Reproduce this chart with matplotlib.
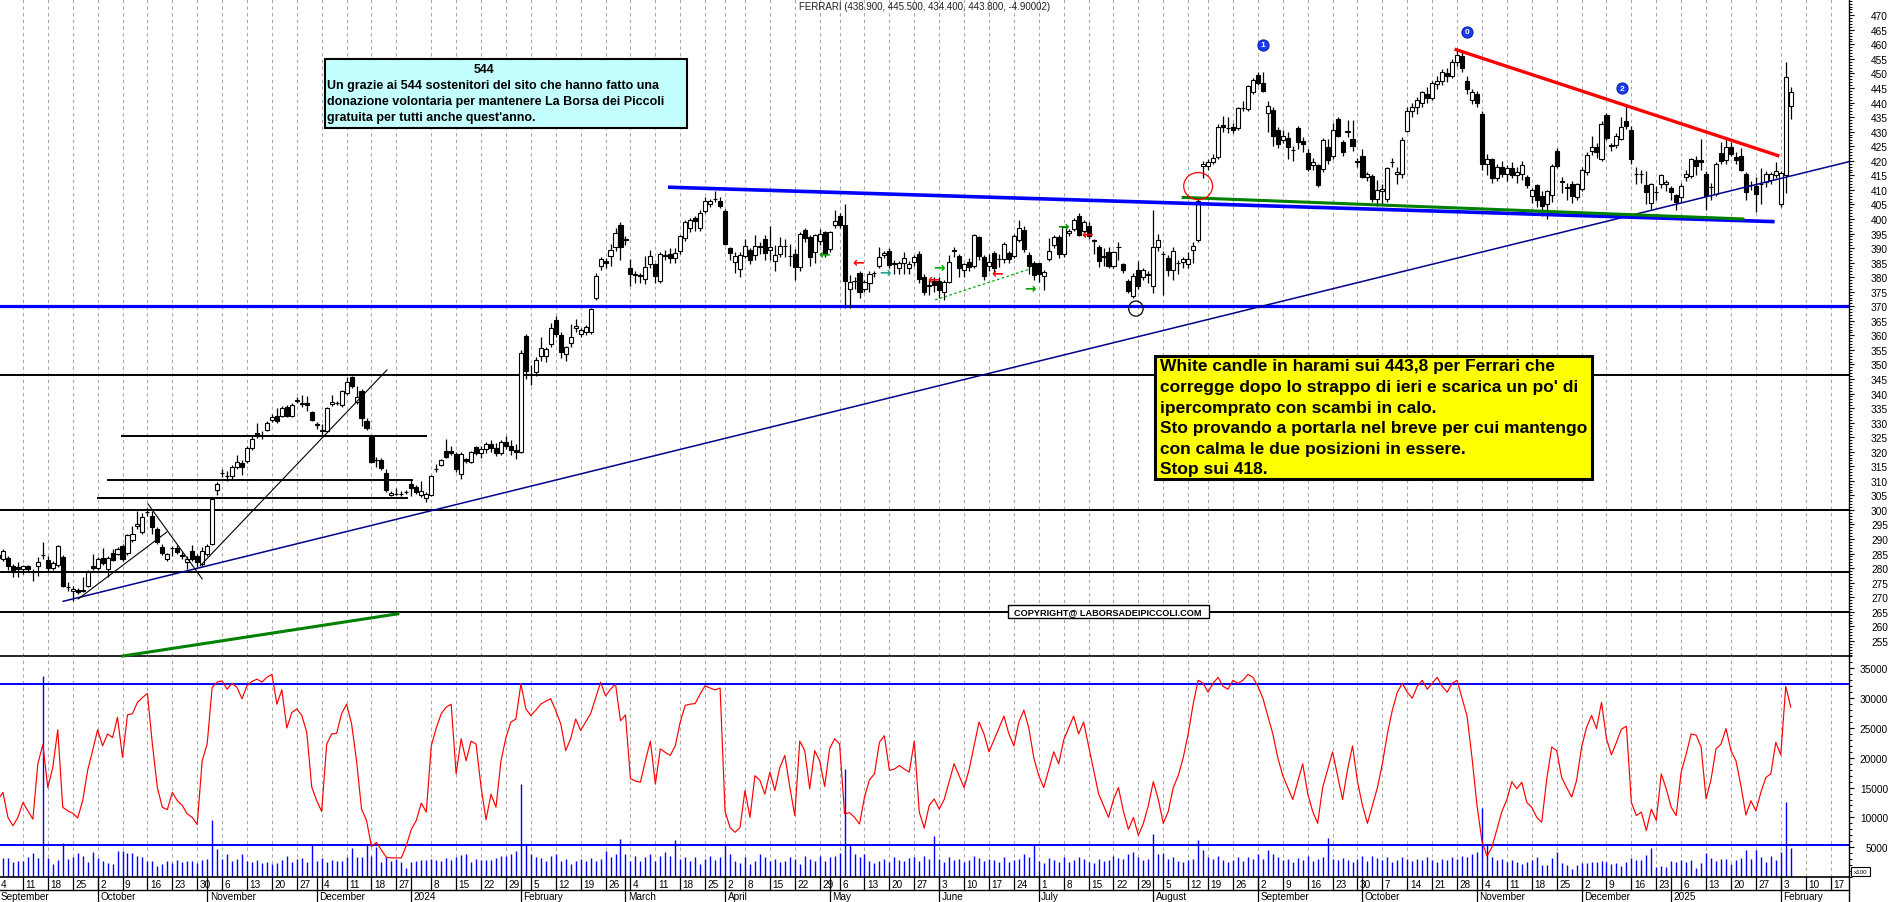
import matplotlib
matplotlib.use("Agg")
import matplotlib.pyplot as plt
import numpy as np
import pandas as pd
from matplotlib.patches import Rectangle, Ellipse
from matplotlib.ticker import MultipleLocator, FixedLocator

plt.rcParams['font.family'] = ['Liberation Sans', 'DejaVu Sans']

# ---------------- data ----------------
holidays = ['2023-12-25', '2023-12-26', '2024-01-01', '2024-03-29', '2024-04-01',
            '2024-05-01', '2024-08-15', '2024-12-24', '2024-12-25', '2024-12-26',
            '2024-12-31', '2025-01-01']
start_date = '2023-09-04'
end_date = '2025-02-05'
axis_end_date = '2025-02-28'

opens = [
    284.5, 283.2, 283.4, 280.9, 280.5, 279.7, 280.6, 278.8, 280.6, 284.5,
    282.8, 280.0, 281.1, 283.8, 273.6, 272.3, 272.5, 272.1, 274.0, 280.9,
    280.0, 283.4, 279.7, 285.1, 284.9, 287.7, 285.2, 289.8, 294.4, 292.3,
    299.2, 298.0, 293.5, 287.2, 283.2, 287.0, 287.0, 284.4, 282.2, 286.0,
    284.0, 281.4, 284.9, 288.3, 306.9, 312.7, 311.6, 311.5, 314.7, 316.0,
    316.7, 321.2, 326.5, 325.6, 327.5, 330.9, 332.2, 332.2, 335.4, 332.2,
    337.6, 336.5, 336.8, 333.6, 329.3, 327.3, 327.3, 336.4, 336.8, 336.1,
    340.1, 345.6, 337.0, 340.8, 330.7, 325.2, 317.2, 317.3, 312.7, 305.3,
    305.5, 305.5, 306.0, 308.8, 307.8, 305.2, 304.0, 305.3, 314.1, 315.5,
    320.4, 320.4, 319.2, 312.4, 317.5, 316.4, 321.5, 319.6, 321.0, 322.8,
    321.2, 319.5, 323.5, 322.0, 320.5, 320.0, 359.7, 346.8, 347.3, 352.8,
    353.0, 357.1, 365.4, 360.1, 353.6, 357.4, 362.6, 360.3, 361.1, 361.1,
    372.7, 384.0, 385.5, 387.2, 390.3, 397.9, 392.9, 383.2, 381.1, 380.7,
    379.4, 384.5, 384.5, 378.8, 387.6, 388.0, 386.5, 389.1, 393.3, 396.8,
    400.2, 396.8, 402.9, 405.1, 406.9, 406.1, 402.9, 389.9, 385.3, 382.8,
    387.2, 389.3, 387.6, 390.5, 393.1, 389.5, 385.7, 388.0, 390.6, 387.2,
    387.8, 383.4, 396.2, 393.7, 388.5, 392.6, 395.4, 389.7, 398.0, 401.1,
    398.0, 375.9, 378.7, 381.3, 375.9, 378.0, 381.4, 384.0, 387.6, 388.9,
    384.6, 383.0, 384.9, 383.0, 385.1, 388.0, 380.0, 377.1, 378.8, 378.8,
    374.8, 378.2, 389.1, 387.2, 382.3, 385.1, 383.7, 393.7, 386.8, 383.7,
    388.3, 386.2, 386.3, 388.2, 387.4, 392.9, 396.2, 387.6, 384.9, 384.9,
    380.3, 386.3, 391.1, 393.7, 388.0, 395.2, 396.6, 400.9, 396.0, 397.7,
    392.5, 390.3, 387.1, 388.6, 384.0, 390.3, 384.5, 378.8, 373.4, 382.6,
    380.0, 380.9, 377.1, 390.3, 388.0, 386.5, 382.3, 384.8, 385.1, 384.6,
    389.5, 392.8, 418.1, 418.1, 419.5, 421.2, 432.3, 431.3, 431.7, 431.2,
    438.0, 437.8, 443.8, 449.5, 446.7, 436.4, 437.5, 430.7, 427.3, 427.8,
    423.7, 431.3, 426.9, 422.7, 418.6, 418.6, 417.2, 424.6, 421.5, 434.4,
    426.4, 430.0, 427.5, 419.7, 421.8, 414.3, 414.9, 406.9, 409.5, 406.7,
    419.5, 415.3, 415.3, 430.4, 437.0, 438.5, 440.0, 443.0, 441.5, 446.5,
    447.5, 450.0, 449.0, 454.0, 456.0, 447.5, 441.0, 443.0, 436.0, 419.0,
    420.5, 414.0, 418.0, 415.5, 417.5, 415.0, 415.5, 414.3, 408.0, 411.7,
    407.8, 405.2, 408.2, 423.3, 412.8, 410.8, 412.0, 407.4, 410.3, 416.3,
    423.5, 424.6, 420.6, 435.9, 425.2, 425.4, 427.5, 433.5, 430.6, 415.5,
    415.5, 411.7, 405.5, 409.2, 412.0, 412.0, 410.6, 408.2, 407.4, 414.3,
    414.6, 420.3, 420.3, 415.5, 410.9, 408.6, 422.7, 420.4, 424.6, 421.2,
    421.5, 415.5, 411.7, 411.2, 412.0, 412.6, 413.5, 415.1, 405.2, 415.1, 438.9]
highs = [
    285.5, 286.5, 284.0, 281.5, 282.0, 281.0, 281.2, 279.7, 283.7, 288.9,
    284.3, 282.5, 288.0, 284.5, 275.1, 274.0, 273.0, 276.9, 279.2, 284.9,
    283.8, 286.9, 284.0, 286.6, 287.2, 288.3, 291.8, 294.5, 299.8, 299.0,
    300.6, 299.8, 294.0, 288.3, 285.2, 287.7, 288.0, 285.5, 284.0, 288.0,
    285.0, 287.2, 288.3, 304.3, 309.7, 314.1, 313.5, 315.5, 318.9, 317.0,
    322.0, 325.5, 329.8, 327.0, 330.5, 332.8, 335.0, 335.8, 336.0, 336.8,
    338.8, 339.5, 339.3, 334.0, 330.1, 329.6, 335.5, 339.5, 337.5, 341.3,
    345.8, 346.0, 342.7, 341.5, 331.5, 325.8, 318.1, 318.0, 314.0, 306.5,
    307.5, 306.5, 307.0, 310.6, 308.5, 310.0, 306.0, 312.0, 315.8, 317.5,
    324.4, 321.9, 320.0, 320.0, 318.0, 320.4, 322.0, 322.0, 323.5, 324.0,
    323.0, 324.0, 325.5, 324.0, 322.5, 354.8, 360.5, 349.8, 352.5, 359.3,
    356.0, 364.3, 366.5, 361.0, 356.5, 364.0, 365.5, 362.5, 363.5, 369.5,
    381.5, 387.0, 386.5, 391.5, 397.0, 399.0, 394.0, 386.3, 382.0, 381.5,
    387.4, 389.2, 385.0, 388.5, 389.5, 390.0, 390.0, 394.5, 399.5, 400.5,
    401.0, 403.0, 407.5, 407.0, 409.5, 407.5, 403.5, 390.5, 388.5, 388.5,
    393.0, 390.0, 394.5, 392.0, 394.5, 397.5, 391.0, 393.7, 393.0, 391.5,
    389.8, 395.5, 397.0, 394.5, 395.0, 396.5, 396.0, 396.0, 403.0, 402.0,
    405.0, 380.6, 380.0, 382.0, 379.0, 382.0, 382.0, 390.5, 389.0, 390.0,
    386.0, 385.5, 388.5, 385.5, 387.5, 389.0, 381.0, 379.0, 380.0, 380.0,
    379.0, 387.5, 390.5, 388.0, 385.0, 386.5, 395.0, 394.0, 387.5, 388.0,
    389.0, 388.0, 392.0, 389.0, 394.8, 399.5, 397.5, 388.5, 385.5, 385.0,
    382.5, 393.5, 394.5, 394.5, 397.5, 396.5, 400.5, 402.0, 399.5, 399.0,
    393.0, 391.0, 390.0, 390.5, 389.0, 392.0, 385.0, 379.5, 381.5, 385.5,
    383.0, 382.0, 403.0, 395.0, 389.0, 387.5, 390.5, 386.0, 387.0, 388.5,
    392.0, 407.0, 420.0, 420.5, 422.5, 432.5, 435.5, 435.0, 433.0, 438.5,
    440.5, 446.0, 448.5, 450.5, 450.5, 440.5, 438.5, 431.5, 430.5, 430.0,
    425.0, 432.0, 428.0, 424.0, 421.0, 419.0, 427.8, 427.5, 433.0, 435.0,
    427.0, 434.0, 434.0, 421.0, 424.0, 416.0, 415.5, 413.5, 412.0, 418.0,
    421.0, 418.0, 428.0, 438.5, 440.0, 442.0, 444.0, 445.5, 447.5, 449.0,
    451.5, 452.0, 455.0, 458.5, 457.5, 449.0, 444.5, 444.0, 437.0, 422.5,
    421.0, 419.0, 420.0, 418.5, 419.5, 418.0, 420.0, 415.0, 410.5, 412.0,
    409.5, 410.0, 419.0, 424.5, 414.5, 412.5, 413.0, 412.5, 418.0, 423.0,
    428.5, 426.0, 433.5, 436.5, 426.0, 429.5, 435.0, 439.0, 432.0, 418.0,
    417.0, 416.5, 412.5, 411.5, 415.5, 413.5, 411.5, 408.5, 412.5, 417.0,
    421.0, 421.5, 427.5, 416.5, 412.5, 419.5, 426.5, 428.0, 426.5, 423.0,
    424.5, 416.0, 413.0, 414.5, 417.5, 416.5, 416.0, 419.5, 416.5, 454.0, 445.5]
lows = [
    282.5, 282.5, 279.2, 276.9, 276.9, 278.0, 279.0, 275.5, 277.4, 283.2,
    278.8, 279.5, 280.5, 273.5, 272.3, 268.8, 271.0, 271.7, 273.5, 279.2,
    279.5, 281.2, 276.9, 282.6, 284.5, 282.5, 284.6, 289.0, 293.5, 291.7,
    298.0, 291.8, 288.3, 284.5, 282.5, 284.3, 285.0, 283.0, 279.7, 282.5,
    280.5, 280.9, 284.3, 288.0, 305.3, 311.2, 310.0, 310.5, 314.0, 312.1,
    316.0, 320.5, 324.7, 324.5, 327.0, 330.3, 330.0, 331.8, 332.0, 331.8,
    336.8, 335.5, 334.1, 330.5, 327.8, 325.0, 326.8, 335.8, 336.0, 335.5,
    339.5, 342.0, 336.5, 329.0, 327.5, 316.0, 314.7, 313.8, 306.0, 304.8,
    305.0, 304.8, 305.5, 304.9, 305.5, 304.5, 302.6, 304.8, 313.0, 315.0,
    318.0, 319.0, 313.0, 310.7, 316.0, 316.0, 319.0, 318.0, 319.5, 320.0,
    318.5, 319.0, 321.0, 319.0, 317.5, 319.5, 345.0, 343.0, 346.0, 351.3,
    351.0, 356.0, 359.5, 352.3, 351.3, 356.0, 361.0, 359.5, 360.0, 360.5,
    372.0, 382.5, 383.0, 384.0, 389.0, 386.0, 391.0, 377.0, 378.0, 378.0,
    377.5, 383.0, 378.0, 378.0, 386.0, 385.0, 385.0, 388.0, 392.5, 395.5,
    395.7, 396.0, 402.0, 404.0, 406.0, 403.8, 391.0, 386.0, 381.5, 380.0,
    386.5, 384.5, 386.0, 388.0, 386.0, 386.0, 382.0, 387.0, 387.0, 384.0,
    379.0, 382.0, 392.0, 384.0, 385.0, 391.0, 387.0, 388.5, 397.0, 397.0,
    369.5, 369.5, 376.0, 373.0, 375.0, 375.0, 380.0, 383.0, 386.5, 383.0,
    381.0, 381.0, 381.0, 381.0, 384.0, 378.0, 374.0, 374.0, 375.0, 373.0,
    372.0, 378.0, 387.0, 380.0, 380.0, 382.0, 383.0, 386.0, 379.0, 382.0,
    381.5, 383.5, 385.0, 385.0, 386.5, 392.0, 388.5, 381.0, 379.0, 378.5,
    375.5, 385.5, 390.0, 386.5, 387.0, 394.0, 396.0, 394.0, 394.0, 393.0,
    388.0, 383.5, 384.0, 383.0, 383.0, 386.0, 381.5, 374.5, 373.0, 376.0,
    379.0, 378.0, 374.5, 389.0, 374.0, 380.5, 379.0, 381.0, 383.0, 383.0,
    385.0, 392.0, 414.0, 417.0, 419.0, 420.5, 430.0, 429.5, 429.5, 430.5,
    437.0, 437.0, 443.0, 446.0, 443.5, 430.0, 425.0, 424.5, 426.0, 420.5,
    420.0, 424.0, 423.0, 416.5, 417.0, 411.0, 416.0, 419.0, 420.5, 428.0,
    421.5, 428.0, 423.5, 418.0, 414.0, 413.0, 406.0, 404.5, 405.0, 406.0,
    418.0, 412.0, 414.0, 430.0, 435.0, 436.0, 438.5, 440.0, 441.0, 444.5,
    446.0, 447.0, 448.5, 452.5, 450.5, 443.0, 439.5, 438.5, 417.0, 415.0,
    412.5, 413.0, 414.5, 413.0, 414.0, 412.5, 413.5, 410.5, 405.5, 404.0,
    401.0, 400.0, 406.0, 417.5, 409.0, 406.5, 405.5, 406.5, 409.5, 415.0,
    422.0, 421.0, 420.0, 427.0, 423.5, 424.5, 427.0, 431.0, 419.0, 412.0,
    412.5, 405.0, 403.5, 406.5, 410.5, 409.5, 406.5, 403.0, 406.0, 413.0,
    414.0, 415.0, 417.0, 403.0, 406.5, 408.0, 419.0, 419.0, 421.5, 419.0,
    416.5, 406.5, 410.0, 402.5, 405.0, 411.0, 412.0, 414.0, 404.0, 409.0, 434.4]
closes = [
    283.5, 286.0, 280.9, 278.8, 279.7, 280.6, 279.7, 278.5, 282.0, 284.6,
    280.0, 281.7, 287.5, 274.0, 273.4, 272.9, 271.7, 272.5, 278.6, 280.0,
    283.2, 281.7, 283.4, 282.9, 286.6, 283.2, 291.4, 291.8, 295.2, 297.5,
    299.2, 294.0, 288.9, 285.2, 284.8, 286.9, 285.7, 284.0, 283.2, 283.2,
    282.0, 286.0, 287.5, 303.8, 308.9, 312.7, 311.6, 314.7, 316.4, 314.9,
    321.2, 324.4, 325.3, 325.5, 329.8, 332.1, 330.4, 335.1, 332.4, 336.2,
    337.6, 336.5, 336.1, 331.0, 329.3, 327.3, 335.1, 337.2, 336.9, 340.8,
    343.9, 342.7, 338.9, 331.5, 328.1, 316.6, 317.2, 314.3, 307.0, 305.8,
    305.5, 305.6, 306.1, 307.5, 306.1, 306.6, 305.5, 311.5, 314.2, 317.0,
    318.3, 319.5, 313.9, 319.2, 316.7, 319.8, 319.6, 321.0, 322.8, 321.2,
    319.5, 323.5, 322.0, 320.5, 320.0, 354.0, 347.9, 346.6, 351.6, 355.6,
    355.3, 362.4, 360.5, 354.4, 355.9, 359.6, 363.2, 361.9, 362.8, 369.0,
    380.5, 386.2, 385.0, 389.5, 395.2, 390.3, 392.9, 381.1, 380.9, 380.5,
    383.4, 387.4, 380.5, 387.9, 387.2, 386.5, 388.3, 394.0, 398.8, 399.8,
    399.4, 402.1, 406.3, 406.3, 406.9, 404.3, 391.4, 388.2, 387.4, 387.6,
    390.8, 385.9, 390.8, 390.5, 388.3, 390.3, 387.6, 390.8, 390.6, 387.2,
    383.4, 395.0, 393.3, 386.8, 394.5, 394.8, 388.0, 395.4, 399.2, 398.0,
    378.8, 378.5, 378.7, 374.8, 378.2, 381.1, 381.4, 387.0, 388.3, 384.3,
    384.6, 384.8, 386.6, 384.6, 386.8, 379.4, 375.0, 377.3, 377.3, 375.7,
    378.2, 385.3, 389.1, 383.0, 384.5, 383.4, 394.6, 387.4, 380.5, 385.3,
    383.0, 386.2, 391.4, 386.3, 394.1, 396.9, 389.7, 383.7, 380.8, 381.1,
    381.7, 389.1, 393.7, 388.0, 397.1, 395.8, 399.8, 394.5, 398.9, 394.3,
    392.5, 385.7, 387.1, 384.0, 388.6, 390.3, 382.6, 375.4, 380.5, 377.1,
    382.3, 380.9, 390.3, 392.9, 388.0, 382.3, 389.1, 384.8, 386.2, 386.2,
    390.8, 406.3, 418.9, 419.7, 421.0, 431.7, 431.5, 431.3, 430.7, 438.0,
    438.2, 445.6, 447.8, 446.6, 444.1, 438.7, 428.4, 425.8, 428.4, 424.6,
    423.7, 426.4, 425.8, 417.2, 419.5, 411.7, 427.3, 420.4, 430.7, 428.6,
    423.0, 430.0, 425.0, 419.7, 414.3, 415.5, 406.9, 410.0, 410.2, 417.4,
    419.5, 416.0, 427.2, 437.2, 438.5, 440.8, 443.5, 441.5, 446.8, 447.5,
    450.5, 449.0, 454.0, 456.5, 452.0, 444.5, 443.5, 440.0, 419.0, 420.5,
    414.0, 418.0, 415.5, 417.5, 415.0, 416.0, 418.6, 411.7, 410.1, 406.6,
    404.4, 409.5, 418.3, 418.1, 412.8, 410.8, 407.8, 411.9, 417.0, 422.0,
    424.6, 422.9, 432.6, 427.7, 425.2, 428.6, 431.5, 431.8, 420.6, 415.5,
    415.5, 409.2, 412.0, 409.2, 415.1, 412.8, 409.4, 405.7, 411.4, 415.5,
    420.6, 418.3, 419.5, 408.0, 410.9, 418.9, 420.0, 424.6, 422.3, 420.4,
    417.0, 409.4, 411.7, 408.6, 412.0, 415.5, 415.5, 416.6, 415.8, 448.7, 443.8]

volumes = [
    3000, 3200, 3200, 2500, 2750, 2750, 3400, 4000, 3200, 33800,
    3200, 2200, 2900, 5700, 3000, 3400, 4000, 3600, 2500, 4200,
    3200, 2750, 2300, 2100, 4400, 4400, 4100, 4000, 3600, 3300,
    2650, 2650, 1800, 2200, 2750, 2300, 2900, 2500, 2650, 2650,
    2400, 2800, 3000, 9500, 4700, 3000, 3900, 2750, 3100, 3900,
    2750, 2600, 2900, 2400, 2500, 2200, 2300, 2900, 3600, 2600,
    3000, 3200, 2500, 5300, 2750, 3200, 2500, 2900, 2650, 2750,
    3300, 4900, 3400, 3400, 5300, 3500, 5100, 2500, 3400, 2750,
    3000, 2600, 1500, 2500, 2650, 2800, 2800, 3000, 2800, 2700,
    3200, 2900, 3300, 3700, 3800, 2600, 3000, 2800, 2900, 2800,
    3200, 3500, 3600, 3900, 4400, 15600, 5500, 3900, 3300, 3200,
    2750, 3600, 3900, 2750, 3000, 2200, 2750, 3000, 2750, 3200,
    2750, 3000, 4400, 3300, 3900, 6400, 3900, 2750, 3600, 2650,
    3300, 3900, 2750, 3600, 4200, 3500, 6200, 3000, 3300, 2750,
    3300, 2200, 3000, 3600, 2900, 3300, 5300, 3900, 2750, 2300,
    3300, 2200, 2750, 3900, 3300, 2650, 3000, 2500, 2750, 3300,
    3000, 2200, 3600, 3000, 2750, 3600, 2750, 3300, 3600, 4000,
    18100, 5500, 3900, 3400, 3900, 2650, 2300, 2750, 3000, 2500,
    3300, 2900, 2750, 3200, 3300, 2750, 3600, 3000, 6950, 3000,
    2600, 3400, 2800, 3100, 2500, 2900, 3600, 3200, 2700, 3000,
    2800, 2500, 3300, 2600, 2900, 3100, 3800, 3300, 5600, 2700,
    2400, 3200, 2800, 2600, 3300, 2500, 2900, 3400, 3000, 2600,
    2300, 3100, 2700, 2900, 3500, 3200, 3000, 3800, 4200, 3300,
    2800, 3100, 7200, 3900, 4100, 3000, 3300, 2700, 2600, 2900,
    3100, 6200, 4600, 3400, 3000, 3600, 2800, 2600, 2900, 3300,
    2700, 3400, 3100, 3800, 3000, 4600, 3900, 3300, 2800, 3100,
    2600, 3200, 2900, 3600, 2700, 3000, 3400, 6500, 3100, 2800,
    3200, 2900, 2600, 3000, 3500, 2700, 3600, 3200, 2800, 3300,
    2600, 2900, 3400, 3100, 2700, 3000, 2800, 3300, 2900, 2600,
    3100, 2800, 3400, 3000, 3600, 3300, 3800, 4200, 11500, 5400,
    3300, 2800, 3000, 2600, 2900, 2500, 2200, 2460, 2850, 3300,
    2000, 2000, 3130, 4250, 2350, 2000, 1340, 2000, 2350, 2350,
    2460, 2570, 2740, 2570, 2180, 2350, 1790, 2460, 3130, 2850,
    2910, 3690, 4810, 1620, 1790, 1620, 2630, 2570, 2800, 2460,
    2800, 1460, 2350, 3970, 3130, 2740, 3020, 3020, 2180, 2850,
    3130, 4530, 3020, 4530, 3300, 2460, 3470, 2850, 4140, 12530, 4810]

oscillator = [
    13000, 14200, 10000, 8600, 10000, 12500, 11100, 9700, 19000, 22200,
    15000, 18400, 24700, 11700, 11100, 10700, 9900, 12800, 17900, 21200,
    24700, 22000, 24000, 23400, 26800, 20100, 27200, 27400, 29300, 30100,
    30800, 22300, 15000, 11700, 11300, 14200, 12800, 12000, 10600, 10000,
    8800, 19500, 22300, 31800, 32700, 32900, 31500, 32500, 31800, 29900,
    32100, 32800, 33200, 32700, 33500, 34000, 29000, 31400, 25000, 27600,
    28200, 27100, 24300, 15100, 12800, 11000, 22300, 24000, 24100, 27400,
    29000, 25700, 19500, 11400, 9500, 5100, 5800, 4500, 3300, 3200,
    3200, 3200, 5300, 8000, 9500, 12400, 10900, 22000, 25000, 27400,
    28500, 29000, 17300, 23200, 19500, 22800, 22300, 15100, 9600, 13900,
    11700, 19500, 23400, 26000, 26500, 32400, 28200, 27100, 28000, 29000,
    29500, 29900, 27900, 25700, 21200, 23200, 26500, 24600, 26000, 27400,
    30000, 32700, 30400, 31500, 32400, 26200, 27200, 16500, 16100, 15900,
    19500, 22800, 15600, 21500, 20900, 20400, 22000, 26000, 28800, 29000,
    29100, 30700, 32100, 31700, 31400, 31700, 11000, 8300, 7500, 8300,
    14500, 10000, 17000, 16200, 13900, 17600, 14500, 18400, 20400, 15100,
    10300, 22800, 21200, 14800, 21200, 19500, 15200, 21500, 23200, 22300,
    10600, 10800, 10000, 8900, 13400, 16300, 17300, 22600, 23700, 17900,
    18100, 18700, 18100, 17600, 22800, 10900, 8200, 12000, 13100, 11400,
    13000, 16000, 19000, 17000, 15000, 18000, 22000, 26000, 24000, 21000,
    23000, 25000, 27000, 24000, 22000, 26000, 28000, 25000, 20000, 17000,
    15000, 18000, 21000, 19000, 23000, 25000, 27000, 24000, 26000, 22000,
    18000, 14000, 12000, 10000, 13000, 15000, 11000, 8000, 10000, 7000,
    9000, 12000, 16000, 13000, 9000, 11000, 15000, 17000, 20000, 24000,
    29000, 33000, 32500, 31000, 32500, 33500, 32000, 31500, 33000, 32500,
    33000, 34000, 33500, 32000, 30000, 27000, 24000, 20000, 17000, 15000,
    13000, 16000, 19000, 14000, 11000, 9000, 15000, 18000, 21000, 17000,
    13000, 18000, 22000, 16000, 12000, 9000, 12000, 15000, 19000, 24000,
    28000, 31000, 32500, 31000, 30000, 32000, 33000, 31500, 32500, 33500,
    32000, 31000, 32500, 33000, 30000, 27000, 20000, 12000, 6000, 3500,
    5000, 8000, 11000, 13000, 16000, 14800, 15900, 12500, 11700, 10000,
    9200, 16400, 21800, 21200, 16700, 15000, 13400, 16200, 21800, 25100,
    27100, 24900, 29300, 23200, 20500, 22600, 24800, 25300, 12500, 10300,
    10900, 7800, 11400, 9500, 17300, 14800, 11700, 10300, 17600, 20600,
    24000, 23800, 21800, 13100, 16400, 21500, 22300, 24900, 21200, 19500,
    15300, 10400, 12800, 11100, 14200, 16700, 17300, 22600, 20500, 32000, 28500]

# horizontal levels and trend lines (index, price)
black_levels = [346.5, 300.0, 278.6, 265.0]
blue_level = 370.0
short_levels = [(325.4, 24.9, 85.9), (310.3, 22.1, 83.1), (304.1, 20.1, 82.1)]
blue_trend = ([134.9, 356.4], [410.9, 399.1])
green_trend = ([238.0, 350.4], [407.4, 400.0])
red_trend = ([292.8, 357.4], [458.2, 421.8])
navy_trend = ([13.1, 371.7], [268.6, 419.7])
thin_lines = [([16.1, 33.9], [269.4, 292.4]), ([30.1, 41.0], [302.1, 276.3]),
              ([40.6, 78.1], [280.8, 348.1])]
green_low = ([25.1, 80.3], [249.8, 264.3])
green_dashed = ([188.2, 207.2], [372.2, 382.8])
osc_levels = [32300, 5300]
markers = [(254, 459.8, '1'), (295, 464.3, '0'), (326.1, 445.0, '2')]
arrows = [(165.9, 388.0, '←', '#00a000'), (172.7, 385.2, '←', '#ff0000'),
          (178.1, 381.8, '→', '#20a090'), (187.7, 379.4, '←', '#ff0000'),
          (189.0, 383.5, '→', '#00b000'), (200.6, 381.4, '←', '#ff0000'),
          (207.2, 376.3, '→', '#00a000'), (213.9, 397.6, '→', '#00a000'),
          (218.7, 394.8, '←', '#ff0000')]

# ---------------- calendar ----------------
days = pd.bdate_range(start_date, end_date)
days = days[~days.isin(pd.to_datetime(holidays))]
future = pd.bdate_range(pd.Timestamp(end_date) + pd.Timedelta(days=1), axis_end_date)
all_days = days.append(future)
n = min(len(days), len(closes))

W, H = 1890, 903
fig = plt.figure(figsize=(W / 100, H / 100), dpi=100)
fig.patch.set_facecolor('white')

XMIN, XMAX = 0.40, 371.70
right = 1849 / W
ax1 = fig.add_axes([0, 246 / H, right, 657 / H])
ax2 = fig.add_axes([0, 25 / H, right, 221 / H])
ax3 = fig.add_axes([0, 0, right, 25 / H])
for ax in (ax1, ax2, ax3):
    ax.set_xlim(XMIN, XMAX)
    ax.set_facecolor('none')
ax1.set_ylim(249.8, 475.6)
ax2.set_ylim(0, 37080)
ax3.set_ylim(25, 0)
ax3.axis('off')

# week starts / month starts
week_starts = []
prev = None
for k, d in enumerate(all_days):
    if prev is None or d.weekday() <= prev.weekday() or (d - prev).days >= 7:
        week_starts.append(k)
    prev = d
week_starts.append(len(all_days))
labelled_weeks = []
for a, b in zip(week_starts[:-1], week_starts[1:]):
    cross = any(j > 0 and all_days[j].year != all_days[j - 1].year for j in range(a, b))
    if not cross:
        labelled_weeks.append(a)
month_starts = [k for k in range(1, len(all_days)) if all_days[k].month != all_days[k - 1].month]

grid_kw = dict(color='#a8a8a8', lw=0.8, dashes=(3.0, 3.0), zorder=0)
for k in labelled_weeks:
    ax1.axvline(k, **grid_kw)
    ax2.axvline(k, **grid_kw)

# ---------------- price panel ----------------
for lv in black_levels:
    ax1.axhline(lv, color='black', lw=1.4, zorder=1)
for lv, a, b in short_levels:
    ax1.plot([a, b], [lv, lv], color='black', lw=1.4, zorder=1)
ax1.axhline(blue_level, color='#0000ff', lw=2.3, zorder=1)

o = np.array(opens[:n]); h = np.array(highs[:n]); l = np.array(lows[:n]); c = np.array(closes[:n])
idx = np.arange(n)
up = c >= o
ax1.vlines(idx, l, h, color='black', lw=0.9, zorder=3)
ax1.bar(idx, np.maximum(np.abs(c - o), 0.12), width=0.82, bottom=np.minimum(o, c),
        color=np.where(up, 'white', 'black'), edgecolor='black', linewidth=0.8, zorder=4)

ax1.plot(*navy_trend, color='#00008b', lw=1.1, zorder=5)
ax1.plot(*blue_trend, color='#0000ff', lw=2.6, zorder=5)
ax1.plot(*green_trend, color='#008000', lw=2.2, zorder=5)
ax1.plot(*red_trend, color='#ff0000', lw=2.4, zorder=5)
ax1.plot(*green_low, color='#008000', lw=2.2, zorder=5, clip_on=False)
for xs, ys in thin_lines:
    ax1.plot(xs, ys, color='black', lw=0.8, zorder=5)
ax1.plot(*green_dashed, color='#00a000', lw=0.9, ls=(0, (2, 2)), zorder=5)

ax1.add_patch(Ellipse((241, 411.3), 5.8, 9.3, fill=False, ec='#ff0000', lw=0.9, zorder=6))
ax1.add_patch(Ellipse((228.5, 369.2), 2.9, 5.2, fill=False, ec='black', lw=0.9, zorder=6))
for mx, my, t in markers:
    ax1.plot([mx], [my], 'o', ms=8, mfc='#1a3cf0', mec='#0a22b0', mew=0.8, zorder=7)
    ax1.text(mx, my, t, color='white', fontsize=6, fontweight='bold', ha='center', va='center', zorder=8)
for ax_, ay, t, col in arrows:
    ax1.text(ax_, ay, t, color=col, fontsize=10, fontweight='bold', ha='center', va='center',
             family='DejaVu Sans', zorder=7)

# ---------------- oscillator / volume panel ----------------
for lv in osc_levels:
    ax2.axhline(lv, color='#0000ff', lw=1.4, zorder=1)
ax2.vlines(idx, 0, np.array(volumes[:n]), color='#0000ff', lw=1.0, zorder=2)
ax2.plot(idx, np.array(oscillator[:n]), color='#ff0000', lw=0.85, zorder=3)

# ---------------- axes styling ----------------
for ax in (ax1, ax2):
    for s in ('left', 'top'):
        ax.spines[s].set_visible(False)
    ax.spines['right'].set_linewidth(1.0)
    ax.spines['bottom'].set_linewidth(1.2)
    ax.tick_params(axis='x', which='both', bottom=False, labelbottom=False)
    ax.yaxis.tick_right()
ax1.yaxis.set_major_locator(FixedLocator(np.arange(255, 471, 5)))
ax1.yaxis.set_minor_locator(MultipleLocator(1))
ax2.yaxis.set_major_locator(FixedLocator(np.arange(5000, 35001, 5000)))
ax2.yaxis.set_minor_locator(MultipleLocator(1000))
for ax in (ax1, ax2):
    ax.tick_params(axis='y', which='major', length=3.6, width=0.8, pad=24.5, labelsize=7.3,
                   colors='black', direction='out')
    ax.tick_params(axis='y', which='minor', length=2.2, width=0.7, direction='out')
    for lbl in ax.get_yticklabels():
        lbl.set_horizontalalignment('right')

# ---------------- date rows ----------------
ax3.plot([XMIN, XMAX], [13, 13], color='black', lw=1.0, clip_on=False)
ax3.plot([XMAX, XMAX], [0, 25], color='black', lw=1.0, clip_on=False)
for k in labelled_weeks:
    if k >= len(all_days):
        continue
    ax3.plot([k, k], [0, 13], color='black', lw=0.9, clip_on=True)
    ax3.text(k + 0.5, 7, str(all_days[k].day), fontsize=7.2, ha='left', va='center', clip_on=True)
month_names = ['January', 'February', 'March', 'April', 'May', 'June', 'July', 'August',
               'September', 'October', 'November', 'December']
ax3.text(XMIN + 0.1, 19.5, 'September', fontsize=7.2, ha='left', va='center')
for k in month_starts:
    d = all_days[k]
    name = str(d.year) if d.month == 1 else month_names[d.month - 1]
    ax3.plot([k, k], [0, 25], color='black', lw=0.9)
    ax3.text(k + 0.5, 19.5, name, fontsize=7.2, ha='left', va='center', clip_on=True)

# ---------------- overlay texts ----------------
ov = fig.add_axes([0, 0, 1, 1])
ov.set_xlim(0, W); ov.set_ylim(H, 0); ov.axis('off'); ov.patch.set_alpha(0)

ov.text(925, 7, 'FERRARI (438.900, 445.500, 434.400, 443.800, -4.90002)', fontsize=7.0,
        ha='center', va='center', color='#202020')

ov.add_patch(Rectangle((325, 60), 362, 69, fc='#c4ffff', ec='black', lw=1.5, zorder=5))
ov.text(484, 70, '544', fontsize=8.8, fontweight='bold', ha='center', va='center', zorder=6)
cyan_lines = ['Un grazie ai 544 sostenitori del sito che hanno fatto una',
              'donazione volontaria per mantenere La Borsa dei Piccoli',
              "gratuita per tutti anche quest'anno."]
for j, t in enumerate(cyan_lines):
    ov.text(327, 86 + 16 * j, t, fontsize=9.0, fontweight='bold', ha='left', va='center', zorder=6)

ov.add_patch(Rectangle((1155, 357), 437, 123, fc='#ffff00', ec='black', lw=2.2, zorder=5))
yellow_lines = ['White candle in harami sui 443,8 per Ferrari che',
                "corregge dopo lo strappo di ieri e scarica un po' di",
                'ipercomprato con scambi in calo.',
                'Sto provando a portarla nel breve per cui mantengo',
                'con calma le due posizioni in essere.',
                'Stop sui 418.']
for j, t in enumerate(yellow_lines):
    ov.text(1160, 367 + 20.6 * j, t, fontsize=12.5, fontweight='bold', ha='left', va='center', zorder=6)

ov.add_patch(Rectangle((1008, 606), 201, 13, fc='white', ec='black', lw=1.0, zorder=5))
ov.text(1108, 612.5, 'COPYRIGHT@ LABORSADEIPICCOLI.COM', fontsize=6.6, fontweight='bold',
        ha='center', va='center', zorder=6)

ov.add_patch(Rectangle((1851, 868), 19, 9, fc='white', ec='black', lw=0.8, zorder=5))
ov.text(1860.5, 872.5, 'x100', fontsize=4.5, ha='center', va='center', zorder=6)

fig.savefig('out.png', dpi=100, facecolor='white')
